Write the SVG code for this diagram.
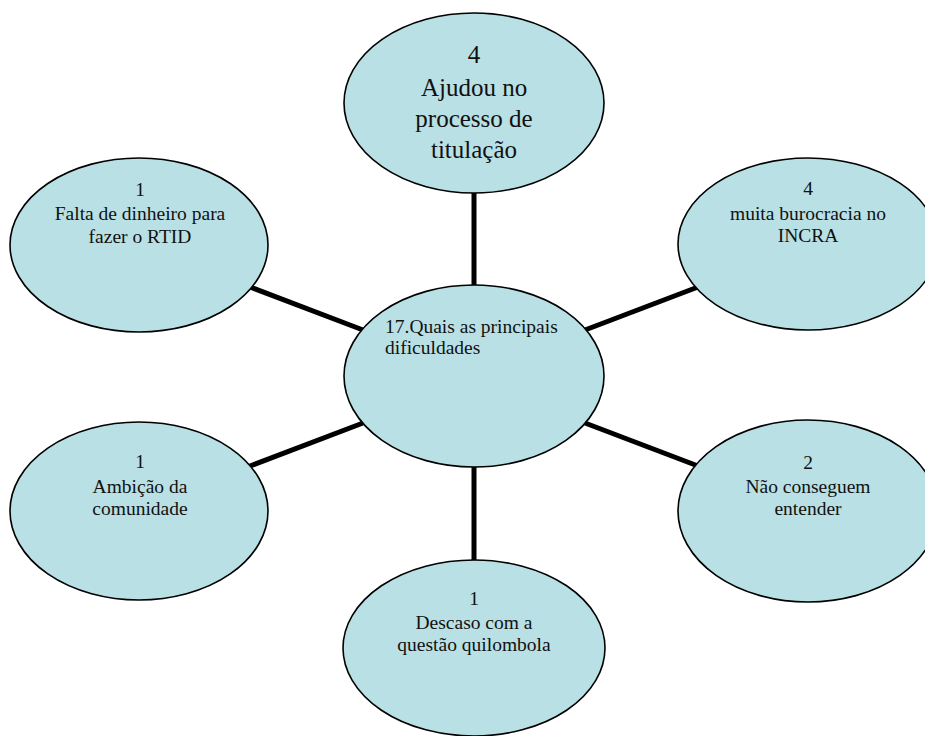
<svg xmlns="http://www.w3.org/2000/svg" width="925" height="736" viewBox="0 0 925 736">
  <style>
    .node { fill: #b9e0e4; stroke: #000; stroke-width: 1.6; }
    .link { stroke: #000; stroke-width: 5; fill: none; }
    text { font-family: "Liberation Serif", "Times New Roman", serif; fill: #111; }
    .big { font-size: 25px; text-anchor: middle; }
    .mid { font-size: 19.5px; text-anchor: middle; }
    .hub { font-size: 19.5px; }
  </style>
  <rect width="925" height="736" fill="#fff"/>
  <g id="connectors">
    <line class="link" x1="474" y1="192" x2="474" y2="286"/>
    <line class="link" x1="474" y1="466" x2="474" y2="561"/>
    <line class="link" x1="250" y1="287" x2="363" y2="330"/>
    <line class="link" x1="585" y1="330" x2="698" y2="287"/>
    <line class="link" x1="250" y1="466" x2="363" y2="423"/>
    <line class="link" x1="585" y1="423" x2="698" y2="466"/>
  </g>
  <g id="node-top">
    <ellipse class="node" cx="474" cy="103" rx="130" ry="90"/>
    <text class="big" x="474" y="63">4</text>
    <text class="big" x="474" y="96">Ajudou no</text>
    <text class="big" x="474" y="127">processo de</text>
    <text class="big" x="474" y="158">titulação</text>
  </g>
  <g id="node-left-top">
    <ellipse class="node" cx="139" cy="245" rx="129" ry="87"/>
    <text class="mid" x="140" y="196">1</text>
    <text class="mid" x="140" y="219.5">Falta de dinheiro para</text>
    <text class="mid" x="140" y="243">fazer o RTID</text>
  </g>
  <g id="node-right-top">
    <ellipse class="node" cx="808" cy="244" rx="130" ry="86"/>
    <text class="mid" x="808" y="195">4</text>
    <text class="mid" x="808" y="219.5">muita burocracia no</text>
    <text class="mid" x="808" y="242">INCRA</text>
  </g>
  <g id="node-center">
    <ellipse class="node" cx="474" cy="376" rx="130" ry="91"/>
    <text class="hub" x="385" y="332.5">17.Quais as principais</text>
    <text class="hub" x="385" y="353.5">dificuldades</text>
  </g>
  <g id="node-left-bottom">
    <ellipse class="node" cx="139" cy="511" rx="129" ry="89"/>
    <text class="mid" x="140" y="468">1</text>
    <text class="mid" x="140" y="492.5">Ambição da</text>
    <text class="mid" x="140" y="515">comunidade</text>
  </g>
  <g id="node-right-bottom">
    <ellipse class="node" cx="808" cy="511" rx="130" ry="91"/>
    <text class="mid" x="808" y="469">2</text>
    <text class="mid" x="808" y="492.5">Não conseguem</text>
    <text class="mid" x="808" y="515">entender</text>
  </g>
  <g id="node-bottom">
    <ellipse class="node" cx="474" cy="648" rx="131" ry="88"/>
    <text class="mid" x="474" y="605">1</text>
    <text class="mid" x="474" y="628.5">Descaso com a</text>
    <text class="mid" x="474" y="650.5">questão quilombola</text>
  </g>
</svg>
